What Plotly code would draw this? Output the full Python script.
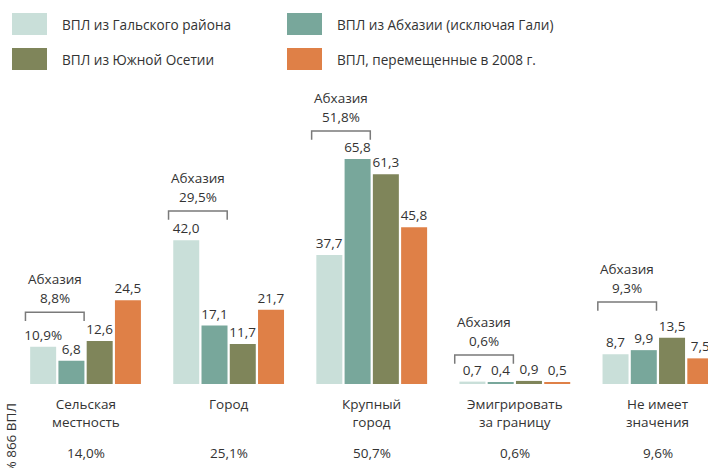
import plotly.graph_objects as go

# ---------------- data ----------------
categories = ["Сельская<br>местность", "Город", "Крупный<br>город",
              "Эмигрировать<br>за границу", "Не имеет<br>значения"]
series_names = ["ВПЛ из Гальского района", "ВПЛ из Абхазии (исключая Гали)",
                "ВПЛ из Южной Осетии", "ВПЛ, перемещенные в 2008 г."]
gali = [10.9, 42.0, 37.7, 0.7, 8.7]
abkhazia_ex_gali = [6.8, 17.1, 65.8, 0.4, 9.9]
south_ossetia = [12.6, 11.7, 61.3, 0.9, 13.5]
displaced_2008 = [24.5, 21.7, 45.8, 0.5, 7.5]
abkhazia_total = [8.8, 29.5, 51.8, 0.6, 9.3]
all_idps = [14.0, 25.1, 50.7, 0.6, 9.6]
axis_label = "% 866 ВПЛ"
bracket_label = "Абхазия"

# ---------------- styles / layout ----------------
colors = ["#C9DFD9", "#78A79B", "#7F855A", "#DF8047"]
FONT = "Open Sans"
TXT = "#333333"
FS = 13.5
W, H = 708, 468
ML, MR, MT, MB = 14, 0, 80, 84
PW, PH = W - ML - MR, H - MT - MB
bracket_levels = [21.0, 50.6, 74.0, 8.5, 24.0]


def fmt(v):
    return f"{v:.1f}".replace(".", ",")


def px2paper(px, py):
    return (px - ML) / PW, (H - MB - py) / PH


series = [gali, abkhazia_ex_gali, south_ossetia, displaced_2008]
xs = list(range(len(categories)))

fig = go.Figure()
for si, (name, vals) in enumerate(zip(series_names, series)):
    texts = [fmt(v) for v in vals]
    if si == 0:
        texts[0] = texts[0] + "%"
    fig.add_trace(go.Bar(
        x=xs, y=vals, name=name, marker_color=colors[si], marker_line_width=0,
        text=texts, textposition="outside", constraintext="none",
        textfont=dict(family=FONT, size=FS, color=TXT), cliponaxis=False,
        showlegend=False, hoverinfo="skip"))

shapes = []
annotations = []
for i, x in enumerate(xs):
    yb = bracket_levels[i]
    x0, x1 = x - 0.42, x - 0.01
    tick = 2.6
    shapes.append(dict(type="path", xref="x", yref="y",
                       path=f"M {x0},{yb - tick} L {x0},{yb} L {x1},{yb} L {x1},{yb - tick}",
                       line=dict(color="#7a7a7a", width=1.5)))
    xc = (x0 + x1) / 2
    annotations.append(dict(x=xc, y=yb, xref="x", yref="y", text=bracket_label,
                            showarrow=False, yshift=33,
                            font=dict(family=FONT, size=FS, color=TXT)))
    annotations.append(dict(x=xc, y=yb, xref="x", yref="y", text=fmt(abkhazia_total[i]) + "%",
                            showarrow=False, yshift=14,
                            font=dict(family=FONT, size=FS, color=TXT)))
    annotations.append(dict(x=x, y=0, xref="x", yref="y", text=categories[i],
                            showarrow=False, yanchor="top", yshift=-9,
                            font=dict(family=FONT, size=FS, color=TXT)))
    annotations.append(dict(x=x, y=0, xref="x", yref="y", text=fmt(all_idps[i]) + "%",
                            showarrow=False, yshift=-69,
                            font=dict(family=FONT, size=FS, color=TXT)))

# rotated axis label
ax_, ay_ = px2paper(10, 402)
annotations.append(dict(x=ax_, y=ay_, xref="paper", yref="paper", text=axis_label,
                        textangle=-90, showarrow=False, xanchor="center", yanchor="top",
                        font=dict(family=FONT, size=FS, color=TXT)))

# manual legend
legend_pos = [(12, 13), (287, 13), (12, 48), (287, 48)]
for si, (lx, ly) in enumerate(legend_pos):
    x0p, y1p = px2paper(lx, ly)
    x1p, y0p = px2paper(lx + 35, ly + 22)
    shapes.append(dict(type="rect", xref="paper", yref="paper", x0=x0p, x1=x1p,
                       y0=y0p, y1=y1p, fillcolor=colors[si], line_width=0))
    tx, ty = px2paper(lx + 48, ly + 12)
    annotations.append(dict(x=tx, y=ty, xref="paper", yref="paper", text=series_names[si],
                            showarrow=False, xanchor="left", yanchor="middle",
                            font=dict(family=FONT, size=13.6, color=TXT)))

fig.update_layout(
    width=W, height=H, margin=dict(l=ML, r=MR, t=MT, b=MB),
    paper_bgcolor="white", plot_bgcolor="white",
    barmode="group", bargap=0.21, bargroupgap=0.08,
    xaxis=dict(range=[-0.5, 4.35], visible=False, fixedrange=True),
    yaxis=dict(range=[0, PH / 3.42], visible=False, fixedrange=True),
    shapes=shapes, annotations=annotations, showlegend=False,
)
fig.write_html("out.html", config={"displayModeBar": False},
               post_script="document.body.style.margin='0';")
